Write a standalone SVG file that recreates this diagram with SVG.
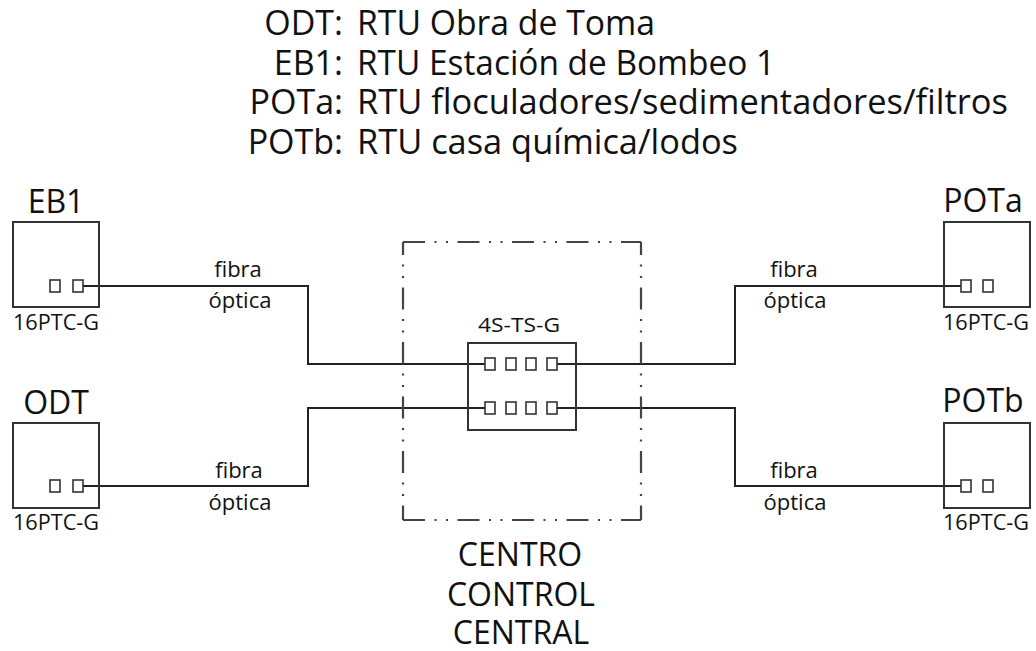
<svg xmlns="http://www.w3.org/2000/svg" width="1036" height="651" viewBox="0 0 1036 651">
<style>
text{font-family:"Open Sans","DejaVu Sans",sans-serif;fill:#111}
.t{font-size:34px}
.lbl{font-size:32px;text-anchor:middle}
.mod{font-size:22px;text-anchor:middle}
.fo{font-size:22px;text-anchor:middle}
.box{fill:none;stroke:#333;stroke-width:2}
.port{fill:#fff;stroke:#333;stroke-width:1.6}
.wire{fill:none;stroke:#222;stroke-width:2}
.dd{fill:none;stroke:#444;stroke-width:2.2;stroke-dasharray:22 9.5 2 9.5 2 9.5}
</style>
<rect width="1036" height="651" fill="#fff"/>
<g id="legend" class="t">
<text x="343" y="35" text-anchor="end">ODT:</text><text x="357" y="35" textLength="298" lengthAdjust="spacingAndGlyphs">RTU Obra de Toma</text>
<text x="343" y="75" text-anchor="end">EB1:</text><text x="357" y="75" textLength="418" lengthAdjust="spacingAndGlyphs">RTU Estación de Bombeo 1</text>
<text x="343" y="114" text-anchor="end">POTa:</text><text x="357" y="114" textLength="651" lengthAdjust="spacingAndGlyphs">RTU floculadores/sedimentadores/filtros</text>
<text x="343" y="154" text-anchor="end">POTb:</text><text x="357" y="154" textLength="381" lengthAdjust="spacingAndGlyphs">RTU casa química/lodos</text>
</g>
<g id="connectors">
<path class="wire" d="M83 286 H308 V364 H485"/>
<path class="wire" d="M83 486 H308 V408 H485"/>
<path class="wire" d="M557 364 H735 V286 H961"/>
<path class="wire" d="M557 408 H735 V486 H961"/>
<g id="connector-labels">
<text class="fo" x="238" y="277">fibra</text><text class="fo" x="240" y="308">óptica</text>
<text class="fo" x="239" y="478">fibra</text><text class="fo" x="240" y="510">óptica</text>
<text class="fo" x="794" y="277">fibra</text><text class="fo" x="795" y="308">óptica</text>
<text class="fo" x="794" y="478">fibra</text><text class="fo" x="795" y="510">óptica</text>
</g>
</g>
<g id="centro-control">
<path class="dd" d="M403 242 H641"/>
<path class="dd" d="M403 520 H641"/>
<path class="dd" d="M403 242 V520" stroke-dashoffset="9"/>
<path class="dd" d="M641 242 V520" stroke-dashoffset="9"/>
<text class="lbl" x="520" y="566">CENTRO</text>
<text class="lbl" x="521" y="606">CONTROL</text>
<text class="lbl" x="521" y="644">CENTRAL</text>
</g>
<g id="hub-4S-TS-G">
<rect class="box" x="468" y="343" width="108" height="87"/>
<rect class="port" x="485" y="358" width="10" height="12"/>
<rect class="port" x="506" y="358" width="10" height="12"/>
<rect class="port" x="526" y="358" width="10" height="12"/>
<rect class="port" x="547" y="358" width="10" height="12"/>
<rect class="port" x="485" y="402" width="10" height="12"/>
<rect class="port" x="506" y="402" width="10" height="12"/>
<rect class="port" x="526" y="402" width="10" height="12"/>
<rect class="port" x="547" y="402" width="10" height="12"/>
<text x="519" y="332" font-size="20" text-anchor="middle" textLength="82" lengthAdjust="spacingAndGlyphs">4S-TS-G</text>
</g>
<g id="EB1">
<text class="lbl" x="56" y="213">EB1</text>
<rect class="box" x="13" y="222" width="86" height="85"/>
<rect class="port" x="50" y="280" width="10" height="12"/>
<rect class="port" x="73" y="280" width="10" height="12"/>
<text class="mod" x="56" y="330" textLength="86" lengthAdjust="spacingAndGlyphs">16PTC-G</text>
</g>
<g id="ODT">
<text class="lbl" x="56" y="414">ODT</text>
<rect class="box" x="13" y="423" width="86" height="85"/>
<rect class="port" x="50" y="480" width="10" height="12"/>
<rect class="port" x="73" y="480" width="10" height="12"/>
<text class="mod" x="56" y="530" textLength="86" lengthAdjust="spacingAndGlyphs">16PTC-G</text>
</g>
<g id="POTa">
<text class="lbl" x="983" y="212">POTa</text>
<rect class="box" x="944" y="222" width="86" height="85"/>
<rect class="port" x="961" y="280" width="10" height="12"/>
<rect class="port" x="983" y="280" width="10" height="12"/>
<text class="mod" x="986" y="330" textLength="86" lengthAdjust="spacingAndGlyphs">16PTC-G</text>
</g>
<g id="POTb">
<text class="lbl" x="983" y="412">POTb</text>
<rect class="box" x="944" y="423" width="86" height="85"/>
<rect class="port" x="961" y="480" width="10" height="12"/>
<rect class="port" x="983" y="480" width="10" height="12"/>
<text class="mod" x="986" y="530" textLength="86" lengthAdjust="spacingAndGlyphs">16PTC-G</text>
</g>
</svg>
